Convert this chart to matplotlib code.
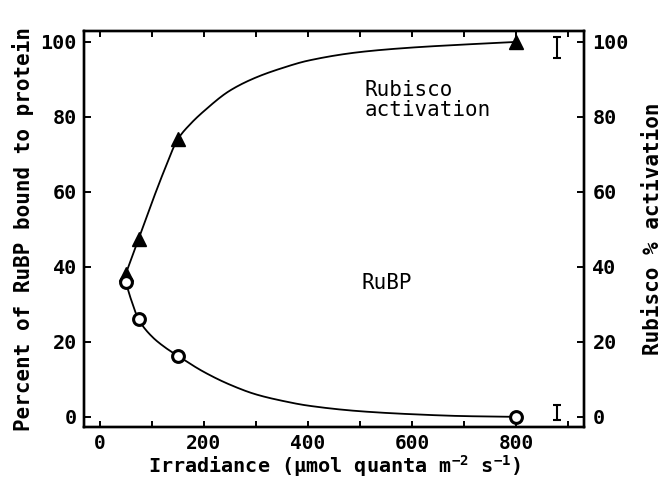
import matplotlib
matplotlib.use("Agg")
import matplotlib.pyplot as plt
import numpy as np

plt.rcParams['font.family'] = ['DejaVu Sans Mono', 'DejaVu Sans']
plt.rcParams['mathtext.default'] = 'regular'

# Measured points
irr_act = [50, 75, 150, 800]
activation = [38, 47.5, 74, 100]
irr_rubp = [50, 75, 150, 800]
rubp = [36, 26, 16.3, 0]

# Fitted curves
fit_x_act = [50, 75, 100, 125, 150, 175, 200, 250, 300, 350, 400, 500, 600, 700, 800]
fit_y_act = [38, 47.5, 57, 66, 74, 78.2, 81.5, 87, 90.5, 93, 95, 97.3, 98.5, 99.3, 100]
fit_x_rubp = [50, 60, 75, 100, 125, 150, 200, 250, 300, 350, 400, 500, 600, 700, 800]
fit_y_rubp = [36, 31.5, 26, 21.5, 18.6, 16.3, 12, 8.6, 6, 4.3, 3, 1.5, 0.7, 0.2, 0]

# Error bars (representative)
err_x = [878, 878]
err_y = [98.5, 1.2]
err_e = [2.7, 2.0]

xticks = [0, 100, 200, 300, 400, 500, 600, 700, 800, 900]
xticklabels = ['0', '', '200', '', '400', '', '600', '', '800', '']
yticks = [0, 20, 40, 60, 80, 100]


def smooth(xs, ys, n=400):
    """Monotone cubic (PCHIP-style) resampling for drawing a smooth line."""
    x = np.asarray(xs, float)
    y = np.asarray(ys, float)
    h = np.diff(x)
    d = np.diff(y) / h
    m = np.zeros_like(y)
    for k in range(1, len(x) - 1):
        if d[k - 1] * d[k] > 0:
            w1 = 2 * h[k] + h[k - 1]
            w2 = h[k] + 2 * h[k - 1]
            m[k] = (w1 + w2) / (w1 / d[k - 1] + w2 / d[k])
    m[0] = d[0]
    m[-1] = d[-1]
    xx = np.linspace(x[0], x[-1], n)
    idx = np.clip(np.searchsorted(x, xx) - 1, 0, len(x) - 2)
    t = (xx - x[idx]) / h[idx]
    h00 = 2 * t**3 - 3 * t**2 + 1
    h10 = t**3 - 2 * t**2 + t
    h01 = -2 * t**3 + 3 * t**2
    h11 = t**3 - t**2
    yy = (h00 * y[idx] + h10 * h[idx] * m[idx] + h01 * y[idx + 1]
          + h11 * h[idx] * m[idx + 1])
    return xx, yy


fig = plt.figure(figsize=(6.66, 4.79), dpi=100)
ax = fig.add_axes([0.126, 0.1086, 0.751, 0.8266])

sx, sy = smooth(fit_x_act, fit_y_act)
ax.plot(sx, sy, color='black', lw=1.3, zorder=2)
sx, sy = smooth(fit_x_rubp, fit_y_rubp)
ax.plot(sx, sy, color='black', lw=1.3, zorder=2)
ax.plot(irr_act, activation, linestyle='none', marker='^', markersize=10,
        color='black', zorder=3)
ax.plot(irr_rubp, rubp, linestyle='none', marker='o', markersize=8.5,
        markerfacecolor='white', markeredgecolor='black', markeredgewidth=2.2, zorder=4)
ax.errorbar(err_x, err_y, yerr=err_e, fmt='none', ecolor='black',
            elinewidth=1.5, capsize=3, capthick=1.5, zorder=3)

ax.set_xlim(-30, 930)
ax.set_ylim(-2.7, 102.9)
ax.set_xticks(xticks)
ax.set_xticklabels(xticklabels)
ax.set_yticks(yticks)

for s in ax.spines.values():
    s.set_linewidth(1.7)

ax.tick_params(axis='x', direction='in', length=4, width=1.4, top=True,
               labelsize=14, pad=5)
ax.tick_params(axis='y', direction='in', length=5, width=1.4,
               labelsize=14.5, pad=5)
for lab in ax.get_xticklabels() + ax.get_yticklabels():
    lab.set_fontweight('bold')

ax2 = ax.twinx()
ax2.set_ylim(-2.7, 102.9)
ax2.set_yticks(yticks)
ax2.tick_params(axis='y', direction='in', length=5, width=1.4,
                labelsize=14.5, pad=6)
for lab in ax2.get_yticklabels():
    lab.set_fontweight('bold')
for s in ax2.spines.values():
    s.set_linewidth(1.7)

ax.set_xlabel('Irradiance (\u03bcmol quanta m$^{-2}$ s$^{-1}$)', fontsize=14.5,
              fontweight='bold', labelpad=0)
ax.set_ylabel('Percent of RuBP bound to protein', fontsize=15,
              fontweight='bold', labelpad=5)
ax2.set_ylabel('Rubisco % activation', fontsize=15, fontweight='bold',
               labelpad=10)

ax.text(509, 84.5, 'Rubisco\nactivation', fontsize=15, ha='left', va='center',
        linespacing=1.0)
ax.text(503, 35.7, 'RuBP', fontsize=15, ha='left', va='center')

fig.savefig('out.png', dpi=100)
